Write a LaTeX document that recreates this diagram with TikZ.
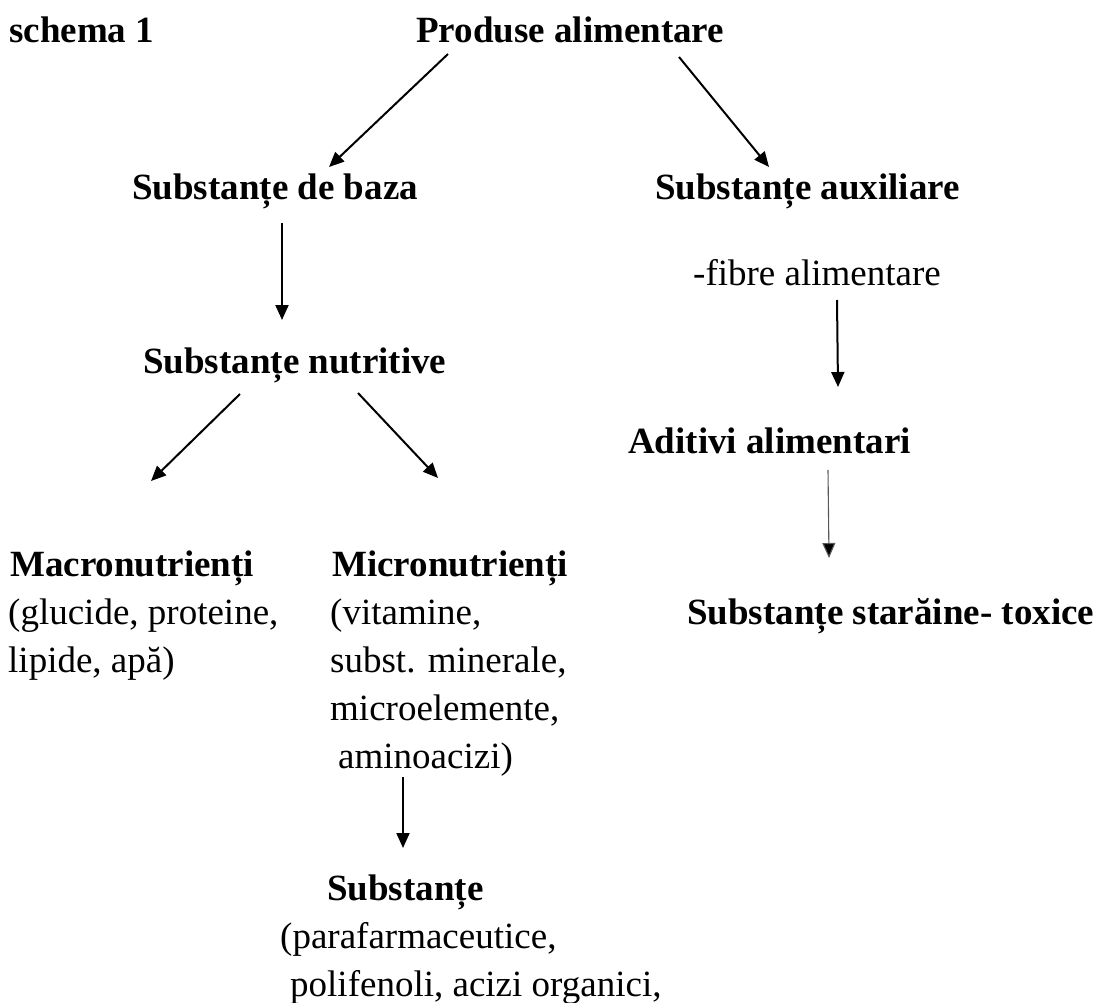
\documentclass[tikz,border=0pt]{standalone}
\usepackage{fontspec}
\setmainfont{Liberation Serif}
\usetikzlibrary{arrows.meta}
\begin{document}
\begin{tikzpicture}[x=1pt,y=-1pt,
  lbl/.style={anchor=base west, inner sep=0pt, font=\fontsize{37}{48}\selectfont},
  hd/.style={anchor=base west, inner sep=0pt, font=\fontsize{37}{48}\selectfont\bfseries},
  arr/.style={line width=2pt, -{Triangle[length=15pt,width=13pt]}},
  arrthin/.style={line width=1.1pt, draw=black!65, -{Triangle[length=15pt,width=13pt,fill=black]}}]
\useasboundingbox (0,0) rectangle (1100,1003);
\fill[white] (0,0) rectangle (1100,1003);

% texts
\node[hd] (schema) at (9,43) {schema 1};
\node[hd] (prod) at (416,43) {Produse alimentare};
\node[hd] (baza) at (132,200) {Substanțe de baza};
\node[hd] (aux) at (655,200) {Substanțe auxiliare};
\node[lbl] (fibre) at (693,285) {-fibre alimentare};
\node[hd] (nutr) at (143,373) {Substanțe nutritive};
\node[hd] (adit) at (628,453) {Aditivi alimentari};
\node[hd] (macro) at (10,576) {Macronutrienți};
\node[lbl] (macroA) at (8,624) {(glucide, proteine,};
\node[lbl] (macroB) at (8,672) {lipide, apă)};
\node[hd] (micro) at (332,576) {Micronutrienți};
\node[lbl] (microA) at (330,624) {(vitamine,};
\node[lbl] (microB) at (330,672) {subst. minerale,};
\node[lbl] (microC) at (330,720) {microelemente,};
\node[lbl] (microD) at (338,768) {aminoacizi)};
\node[hd] (toxice) at (687,624) {Substanțe starăine- toxice};
\node[hd] (subst) at (327,900) {Substanțe};
\node[lbl] (paraA) at (280,948) {(parafarmaceutice,};
\node[lbl] (paraB) at (290,996) {polifenoli, acizi organici,};

% arrow end points
\coordinate (a1s) at (448,54);  \coordinate (a1e) at (329,167);
\coordinate (a2s) at (679,57);  \coordinate (a2e) at (769,167);
\coordinate (a3s) at (282,223); \coordinate (a3e) at (282,320);
\coordinate (a4s) at (240,394); \coordinate (a4e) at (151,481);
\coordinate (a5s) at (358,393); \coordinate (a5e) at (438,478);
\coordinate (a6s) at (837,300); \coordinate (a6e) at (838,387);
\coordinate (a7s) at (828,470); \coordinate (a7e) at (829,558);
\coordinate (a8s) at (403,777); \coordinate (a8e) at (403,848);

\draw[arr] (a1s) -- (a1e);
\draw[arr] (a2s) -- (a2e);
\draw[arr] (a3s) -- (a3e);
\draw[arr] (a4s) -- (a4e);
\draw[arr] (a5s) -- (a5e);
\draw[arr] (a6s) -- (a6e);
\draw[arrthin] (a7s) -- (a7e);
\draw[arr] (a8s) -- (a8e);
\end{tikzpicture}
\end{document}
